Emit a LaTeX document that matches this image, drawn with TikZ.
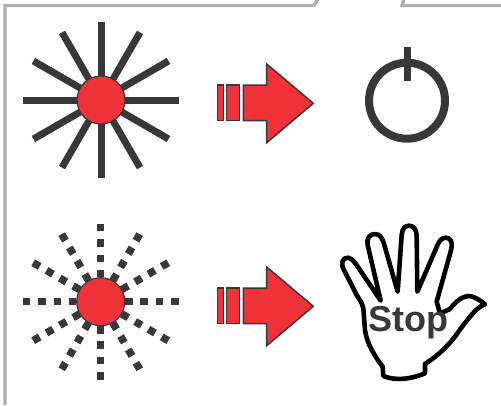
\documentclass[tikz,border=0pt]{standalone}
\usepackage{fontspec}
\setmainfont{Liberation Sans}
\usetikzlibrary{calc}
\definecolor{rd}{HTML}{EF3339}
\definecolor{dk}{HTML}{383838}
\definecolor{fr}{HTML}{AEAEB0}
\tikzset{
  ray/.style={draw=dk,line width=7pt},
  dotray/.style={draw=dk,line width=7.5pt,dash pattern=on 7.5pt off 7.9pt},
  hub/.style={circle,draw=dk,line width=1.2pt,fill=rd,minimum size=48pt,inner sep=0pt},
  arr/.style={draw=dk,line width=1.5pt,fill=rd,line join=miter},
  frameline/.style={draw=fr,line width=3.4pt},
  handline/.style={draw=black,line width=4.6pt,line join=round,fill=white}
}
\begin{document}
\begin{tikzpicture}[x=1pt,y=-1pt]
\useasboundingbox (0,0) rectangle (501,405);
\fill[white] (0,0) rectangle (501,405);
\draw[frameline] (5,405) -- (5,5.5) -- (314,5.5) -- (318,-1);
\draw[frameline] (501,5.5) -- (402,5.5) -- (404,-1);
% burst 1
\coordinate (c1) at (101,100);
\foreach \a in {0,30,...,330} \draw[ray] (c1) -- ++(\a:78);
\node[hub] (h1) at (c1) {};
% burst 2
\coordinate (c2) at (100.7,301.7);
\foreach \a in {0,30,...,330} {
  \draw[dotray] ($(c2)+(\a:24.3)$) -- ($(c2)+(\a:78.5)$);
}
\node[hub] (h2) at (c2) {};
% arrows
\foreach \dy in {0,203} {
\begin{scope}[yshift=-\dy pt]
\draw[arr] (243.3,85) -- (266.7,85) -- (266.7,64) -- (313.3,103.3) -- (266.7,142.7) -- (266.7,120.7) -- (243.3,120.7) -- cycle;
\draw[arr] (226.7,85) rectangle (239.3,120.7);
\draw[arr] (217.7,85) rectangle (223.3,120.7);
\end{scope}}
% power
\draw[draw=dk,line width=8pt] (407,100.7) circle (38);
\draw[draw=dk,line width=7.7pt] (407.5,47.3) -- (407.5,80.7);
% hand
\begin{scope}[shift={(330pt,-210pt)},x=0.3333pt,y=-0.3333pt]
\draw[handline] (160,498) -- (158,470) .. controls (135,440) and (110,400) .. (105,360) -- (100,295)
 .. controls (95,275) and (88,268) .. (80,255) -- (42,180) .. controls (30,160) and (38,142) .. (55,143)
 .. controls (68,145) and (80,165) .. (100,195) -- (152,272) -- (113,105) .. controls (108,85) and (120,72) .. (135,72)
 .. controls (150,72) and (158,85) .. (163,105) -- (203,245) -- (215,75) .. controls (217,55) and (225,47) .. (237,47)
 .. controls (252,47) and (260,60) .. (260,78) -- (262,245) -- (325,100) .. controls (332,85) and (345,80) .. (355,85)
 .. controls (368,92) and (367,105) .. (362,125) -- (320,275) -- (330,310) -- (358,298) .. controls (372,285) and (385,262) .. (415,258)
 .. controls (430,258) and (450,270) .. (465,283) .. controls (440,292) and (425,315) .. (400,345)
 .. controls (375,380) and (350,420) .. (285,462) -- (285,490) .. controls (250,505) and (200,515) .. (160,498) -- cycle;
\end{scope}
\node[text=dk,font=\bfseries\fontsize{36}{38}\selectfont,inner sep=0pt] (stop) at (408.5,323) {Stop};
\end{tikzpicture}
\end{document}
